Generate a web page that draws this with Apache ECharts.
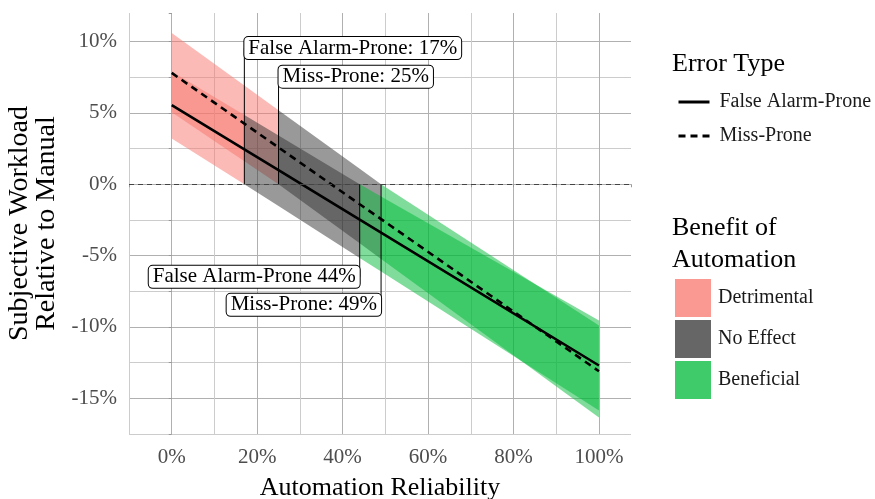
<!DOCTYPE html>
<html>
<head>
<meta charset="utf-8">
<script src="https://cdn.jsdelivr.net/npm/echarts@6/dist/echarts.min.js"></script>
<style>
html, body { margin: 0; padding: 0; background: #fff; }
#chart { width: 875px; height: 499px; }
</style>
</head>
<body>
<div id="chart"></div>
<script>
var serif = "'Liberation Serif', 'DejaVu Serif', serif";

var reliability = [0, 17, 25, 44, 49, 100];

// fitted lines, % workload relative to manual
var faLine = [5.55, 2.45, 0.99, -2.48, -3.39, -12.7];
var missLine = [7.8, 4.25, 2.58, -1.4, -2.44, -13.1];

// confidence bands
var faLower = [3.2, 0.0, -1.53, -5.16, -6.11, -15.85];
var faUpper = [7.9, 4.85, 3.41, 0.0, -0.85, -9.55];
var missLower = [5.05, 1.62, 0.0, -4.14, -5.23, -16.35];
var missUpper = [10.6, 6.92, 5.19, 1.08, 0.0, -9.9];

// where each band changes from detrimental -> no effect -> beneficial
var faCuts = [0, 17, 44, 100];
var missCuts = [0, 25, 49, 100];

var benefitNames = ['Detrimental', 'No Effect', 'Beneficial'];
var benefitFill = ['rgba(248,118,109,0.5)', 'rgba(51,51,51,0.5)', 'rgba(0,186,56,0.5)'];
var benefitKey = ['#FA9892', '#666666', '#40CB6A'];

// annotation boxes
var labelText = ['False Alarm-Prone: 17%', 'Miss-Prone: 25%', 'False Alarm-Prone 44%', 'Miss-Prone: 49%'];
var labelX = [17, 25, 44, 49];
var labelY = [9.54, 7.54, -6.49, -8.45];
var labelAlign = ['left', 'left', 'right', 'right'];

var bands = [
    { lower: faLower, upper: faUpper, cuts: faCuts },
    { lower: missLower, upper: missUpper, cuts: missCuts }
];

function pairs(ys) {
    return reliability.map(function (x, i) { return [x, ys[i]]; });
}

// one custom series per benefit class, each item is a piece of a band
function bandSeries(k) {
    var items = [];
    bands.forEach(function (b, bi) {
        items.push([bi, b.cuts[k], b.cuts[k + 1]]);
    });
    return {
        name: benefitNames[k],
        type: 'custom',
        z: 1,
        silent: true,
        itemStyle: { color: benefitKey[k] },
        data: items,
        renderItem: function (params, api) {
            var b = bands[api.value(0)];
            var from = api.value(1), to = api.value(2);
            var top = [], bot = [];
            reliability.forEach(function (x, i) {
                if (x >= from && x <= to) {
                    top.push(api.coord([x, b.upper[i]]));
                    bot.unshift(api.coord([x, b.lower[i]]));
                }
            });
            return {
                type: 'polygon',
                shape: { points: top.concat(bot) },
                style: { fill: benefitFill[k] }
            };
        }
    };
}

var myChart = echarts.init(document.getElementById('chart'));

var option = {
    animation: false,
    grid: { left: 129, right: 244, top: 13, bottom: 65, containLabel: false, outerBoundsMode: 'none' },
    title: [
        { text: 'Error Type', left: 667, top: 44,
          textStyle: { fontFamily: serif, fontSize: 26, fontWeight: 'normal', color: '#000', lineHeight: 30 } },
        { text: 'Benefit of\nAutomation', left: 667, top: 207,
          textStyle: { fontFamily: serif, fontSize: 26, fontWeight: 'normal', color: '#000', lineHeight: 32 } }
    ],
    legend: [
        {
            data: ['False Alarm-Prone', 'Miss-Prone'],
            orient: 'vertical',
            left: 672,
            top: 87,
            itemWidth: 31,
            itemHeight: 14,
            itemGap: 14,
            selectedMode: false,
            itemStyle: { opacity: 0 },
            lineStyle: { width: 3 },
            textStyle: { fontFamily: serif, fontSize: 20, color: '#1a1a1a', padding: [0, 0, 0, 5] }
        },
        {
            data: benefitNames.map(function (n, i) {
                return { name: n, icon: 'rect', itemStyle: { color: benefitKey[i], borderWidth: 0 } };
            }),
            orient: 'vertical',
            left: 670,
            top: 274,
            itemWidth: 36,
            itemHeight: 38,
            itemGap: 3,
            selectedMode: false,
            textStyle: { fontFamily: serif, fontSize: 20, color: '#1a1a1a', padding: [0, 0, 0, 2] }
        }
    ],
    xAxis: {
        type: 'value',
        min: -10,
        max: 107.5,
        interval: 10,
        name: 'Automation Reliability',
        nameLocation: 'middle',
        nameGap: 41,
        nameTextStyle: { fontFamily: serif, fontSize: 26, color: '#000' },
        axisLine: { show: false },
        axisTick: { show: true, length: 3, lineStyle: { color: '#999' } },
        axisLabel: {
            color: '#4d4d4d', fontFamily: serif, fontSize: 21, margin: 13,
            formatter: function (v) {
                return (v >= 0 && v <= 100 && Math.abs(v % 20) < 1e-6) ? v + '%' : '';
            }
        },
        splitLine: { show: true, showMaxLine: false, lineStyle: { color: ['#cccccc', '#b0b0b0'], width: 1 } }
    },
    yAxis: {
        type: 'value',
        min: -17.5,
        max: 12,
        interval: 2.5,
        name: 'Subjective Workload\nRelative to Manual',
        nameLocation: 'middle',
        nameGap: 67,
        nameTextStyle: { fontFamily: serif, fontSize: 28, lineHeight: 27, color: '#000' },
        axisLine: { show: false },
        axisTick: { show: true, length: 3, lineStyle: { color: '#999' } },
        axisLabel: {
            color: '#4d4d4d', fontFamily: serif, fontSize: 21, margin: 12,
            formatter: function (v) {
                return Math.abs(v % 5) < 1e-6 ? v + '%' : '';
            }
        },
        splitLine: { show: true, showMaxLine: false, lineStyle: { color: ['#cccccc', '#b0b0b0'], width: 1 } }
    },
    series: [
        bandSeries(0),
        bandSeries(1),
        bandSeries(2),
        {
            // lines from 0 up/down to the annotation boxes
            type: 'custom',
            z: 3,
            silent: true,
            data: labelX.map(function (x, i) { return [x, labelY[i]]; }),
            renderItem: function (params, api) {
                var a = api.coord([api.value(0), 0]);
                var b = api.coord([api.value(0), api.value(1)]);
                return {
                    type: 'line',
                    shape: { x1: a[0], y1: a[1], x2: b[0], y2: b[1] },
                    style: { stroke: '#000', lineWidth: 1 }
                };
            }
        },
        {
            name: 'False Alarm-Prone',
            type: 'line',
            z: 4,
            data: pairs(faLine),
            symbol: 'none',
            silent: true,
            lineStyle: { color: '#000', width: 2.6 },
            itemStyle: { color: '#000' },
            markLine: {
                silent: true,
                symbol: 'none',
                label: { show: false },
                lineStyle: { color: '#444', width: 1, type: [5, 4] },
                data: [{ yAxis: 0 }]
            }
        },
        {
            name: 'Miss-Prone',
            type: 'line',
            z: 4,
            data: pairs(missLine),
            symbol: 'none',
            silent: true,
            lineStyle: { color: '#000', width: 2.6, type: [7, 5] },
            itemStyle: { color: '#000' }
        },
        {
            type: 'custom',
            z: 5,
            silent: true,
            data: labelX.map(function (x, i) { return [x, labelY[i], i]; }),
            renderItem: function (params, api) {
                var p = api.coord([api.value(0), api.value(1)]);
                var i = api.value(2);
                return {
                    type: 'text',
                    x: p[0],
                    y: p[1],
                    style: {
                        text: labelText[i],
                        font: '21px ' + serif,
                        fill: '#000',
                        align: labelAlign[i],
                        verticalAlign: 'middle',
                        backgroundColor: '#fff',
                        borderColor: '#000',
                        borderWidth: 1,
                        borderRadius: 4,
                        padding: [1, 4, 0, 4]
                    }
                };
            }
        }
    ]
};

myChart.setOption(option);
</script>
</body>
</html>
